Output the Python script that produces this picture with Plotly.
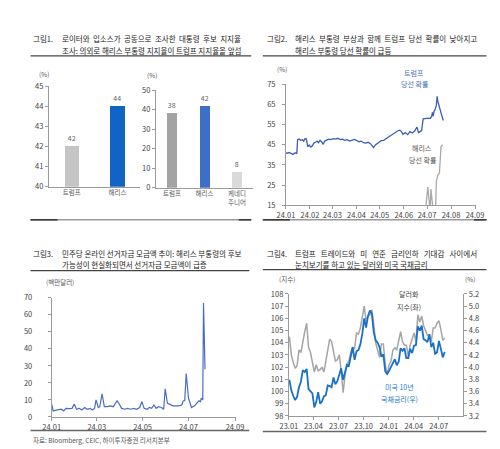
import pandas as pd
import plotly.graph_objects as go

FONT = "Noto Sans CJK KR"
W, H = 500, 449

# ---- 그림1: 지지율 (%) ----
poll1_cats = ["트럼프", "해리스"]
poll1_vals = [42, 44]
poll2_cats = ["트럼프", "해리스", "케네디<br>주니어"]
poll2_vals = [38, 42, 8]

# ---- 그림2: 당선 확률 (%) ----
trump_dates = [
    "2024-01-01", "2024-01-03", "2024-01-05", "2024-01-08", "2024-01-10", "2024-01-12",
    "2024-01-14", "2024-01-15", "2024-01-16", "2024-01-18", "2024-01-20", "2024-01-22",
    "2024-01-24", "2024-01-25", "2024-01-27", "2024-01-28", "2024-01-29", "2024-01-31",
    "2024-02-02", "2024-02-04", "2024-02-06", "2024-02-08", "2024-02-10", "2024-02-12",
    "2024-02-14", "2024-02-16", "2024-02-18", "2024-02-20", "2024-02-22", "2024-02-25",
    "2024-02-28", "2024-03-02", "2024-03-05", "2024-03-08", "2024-03-11", "2024-03-14",
    "2024-03-17", "2024-03-20", "2024-03-23", "2024-03-26", "2024-03-29", "2024-04-01",
    "2024-04-04", "2024-04-07", "2024-04-10", "2024-04-13", "2024-04-16", "2024-04-19",
    "2024-04-21", "2024-04-23", "2024-04-25", "2024-04-27", "2024-04-30", "2024-05-03",
    "2024-05-06", "2024-05-09", "2024-05-12", "2024-05-15", "2024-05-18", "2024-05-21",
    "2024-05-24", "2024-05-27", "2024-05-29", "2024-05-31", "2024-06-03", "2024-06-06",
    "2024-06-09", "2024-06-12", "2024-06-15", "2024-06-18", "2024-06-20", "2024-06-22",
    "2024-06-24", "2024-06-26", "2024-06-28", "2024-07-01", "2024-07-03", "2024-07-05",
    "2024-07-07", "2024-07-08", "2024-07-09", "2024-07-10", "2024-07-11", "2024-07-13",
    "2024-07-14", "2024-07-15", "2024-07-16", "2024-07-18", "2024-07-20", "2024-07-22",
]
trump_prob = [
    41.0, 40.8, 41.2, 40.5, 40.2, 40.8,
    41.0, 40.5, 47.5, 47.8, 47.2, 47.5,
    46.8, 47.8, 48.0, 46.5, 44.0, 44.8,
    43.8, 44.5, 45.8, 46.2, 46.8, 46.0,
    47.2, 46.5, 45.2, 46.8, 47.2, 47.8,
    47.5, 48.0, 47.8, 48.2, 47.5, 47.8,
    47.2, 47.5, 46.8, 47.4, 47.6, 47.2,
    46.5, 46.8, 46.0, 45.8, 46.2, 45.5,
    44.8, 43.6, 44.8, 45.5, 46.2, 47.0,
    47.2, 48.0, 48.8, 49.5, 50.5, 51.0,
    51.8, 52.2, 51.5, 50.2, 51.0, 50.0,
    51.5, 50.8, 51.8, 53.8, 51.0, 51.5,
    52.0, 57.8, 58.0, 58.0, 58.2, 58.0,
    59.0, 61.0, 59.2, 61.5, 62.0, 64.5,
    69.0, 66.5, 64.8, 62.0, 59.5, 57.0,
]
harris_dates = [
    "2024-06-27", "2024-06-30", "2024-07-02", "2024-07-04", "2024-07-05", "2024-07-06",
    "2024-07-08", "2024-07-09", "2024-07-12", "2024-07-13", "2024-07-15", "2024-07-17",
    "2024-07-19", "2024-07-21",
]
harris_prob = [8, 16, 24, 15, 12, 23, 15, 12, 12, 27, 30, 31, 44, 45]

# ---- 그림3: 민주당 온라인 선거자금 모금액 (백만달러) ----
fund_dates = [
    "2024-01-01", "2024-01-03", "2024-01-07", "2024-01-12", "2024-01-14", "2024-01-17",
    "2024-01-20", "2024-01-24", "2024-01-28", "2024-01-31", "2024-02-03", "2024-02-07",
    "2024-02-10", "2024-02-14", "2024-02-17", "2024-02-21", "2024-02-24", "2024-02-27",
    "2024-02-29", "2024-03-03", "2024-03-05", "2024-03-08", "2024-03-11", "2024-03-15",
    "2024-03-19", "2024-03-23", "2024-03-28", "2024-03-31", "2024-04-03", "2024-04-07",
    "2024-04-11", "2024-04-15", "2024-04-19", "2024-04-23", "2024-04-27", "2024-04-30",
    "2024-05-03", "2024-05-07", "2024-05-10", "2024-05-13", "2024-05-16", "2024-05-19",
    "2024-05-22", "2024-05-26", "2024-05-29", "2024-05-31", "2024-06-03", "2024-06-06",
    "2024-06-10", "2024-06-14", "2024-06-18", "2024-06-22", "2024-06-24", "2024-06-26",
    "2024-06-28", "2024-07-01", "2024-07-05", "2024-07-09", "2024-07-13", "2024-07-15",
    "2024-07-17", "2024-07-18", "2024-07-20", "2024-07-21", "2024-07-23",
]
fund_vals = [
    7.5, 3.5, 4.0, 4.2, 4.5, 3.5,
    5.0, 4.8, 5.0, 7.5, 4.5, 5.0,
    4.0, 5.5, 4.5, 5.0, 4.0, 5.0,
    10.0, 5.5, 6.0, 13.5, 6.0, 6.0,
    6.5, 6.0, 9.5, 7.5, 5.0, 4.5,
    5.0, 4.5, 5.0, 4.5, 5.5, 9.0,
    5.0, 4.5, 5.5, 5.0, 7.0, 5.0,
    6.0, 5.5, 4.5, 16.5, 8.0, 7.5,
    6.5, 6.5, 6.5, 7.0, 9.5, 9.5,
    25.5, 11.0, 5.5, 6.5, 8.5, 9.5,
    9.0, 11.0, 10.0, 67.0, 28.0,
]

# ---- 그림4: 달러화 지수(좌) / 미국 10년 국채금리(우), 주간 ----
week_dates = pd.date_range("2023-01-03", "2024-07-23", freq="7D")
dxy = [
    104.5, 103.0, 102.4, 101.9, 102.1, 103.4, 103.2, 104.2, 104.9, 105.6,
    103.6, 103.2, 102.4, 101.6, 102.2, 101.7, 101.8, 102.0, 101.6, 102.6,
    103.5, 104.3, 104.1, 103.3, 102.5, 102.6, 103.0, 101.7, 99.9, 101.3,
    102.2, 102.5, 103.2, 103.6, 103.5, 104.8, 104.7, 105.2, 106.2, 107.0,
    105.8, 106.2, 106.3, 106.7, 105.5, 104.0, 103.4, 102.8, 103.9, 103.9,
    102.2, 101.4, 102.2, 102.5, 103.4, 103.6, 103.4, 104.2, 104.9, 104.1,
    103.8, 103.8, 102.9, 103.8, 104.3, 104.8, 104.1, 106.3, 105.7, 106.2,
    105.4, 105.0, 104.6, 104.6, 104.1, 105.2, 105.2, 105.6, 105.8, 105.1,
    104.2, 104.4,
]
ust10y = [
    3.79, 3.62, 3.53, 3.46, 3.51, 3.67, 3.76, 3.95, 3.92, 3.97,
    3.64, 3.60, 3.57, 3.34, 3.43, 3.59, 3.40, 3.44, 3.52, 3.54,
    3.70, 3.69, 3.67, 3.83, 3.72, 3.77, 3.86, 3.98, 3.79, 3.90,
    4.04, 4.02, 4.21, 4.33, 4.12, 4.26, 4.28, 4.37, 4.54, 4.80,
    4.65, 4.84, 4.93, 4.88, 4.57, 4.44, 4.40, 4.33, 4.17, 4.21,
    3.93, 3.89, 3.94, 4.02, 4.07, 4.13, 4.03, 4.09, 4.31, 4.27,
    4.31, 4.15, 4.15, 4.30, 4.23, 4.35, 4.36, 4.67, 4.60, 4.68,
    4.46, 4.44, 4.41, 4.54, 4.33, 4.40, 4.22, 4.24, 4.43, 4.30,
    4.16, 4.25,
]


def px(x):
    return x / W


def py(y):
    return 1 - y / H


fig = go.Figure()

fig.add_trace(go.Bar(
    x=poll1_cats, y=poll1_vals, width=0.32,
    marker=dict(color=["#c4c4c4", "#0f64c4"], line_width=0),
    text=poll1_vals, textposition="outside", cliponaxis=False,
    textfont=dict(size=7, color="#666", family=FONT),
    xaxis="x", yaxis="y",
))
fig.add_trace(go.Bar(
    x=poll2_cats, y=poll2_vals, width=0.3,
    marker=dict(color=["#a3a3a3", "#3d6fc6", "#dadada"], line_width=0),
    text=poll2_vals, textposition="outside", cliponaxis=False,
    textfont=dict(size=7, color="#666", family=FONT),
    xaxis="x2", yaxis="y2",
))
fig.add_trace(go.Scatter(
    x=trump_dates, y=trump_prob, mode="lines",
    line=dict(color="#3b5fb4", width=1.3), xaxis="x3", yaxis="y3",
))
fig.add_trace(go.Scatter(
    x=harris_dates, y=harris_prob, mode="lines",
    line=dict(color="#a8a8a8", width=1.3), xaxis="x3", yaxis="y3",
))
fig.add_trace(go.Scatter(
    x=fund_dates, y=fund_vals, mode="lines",
    line=dict(color="#4a6cc0", width=1.2), xaxis="x4", yaxis="y4",
))
fig.add_trace(go.Scatter(
    x=week_dates, y=dxy, mode="lines",
    line=dict(color="#a5a5a5", width=1.5), xaxis="x5", yaxis="y5",
))
fig.add_trace(go.Scatter(
    x=week_dates, y=ust10y, mode="lines",
    line=dict(color="#1a6fc9", width=1.8), xaxis="x5", yaxis="y6",
))

# 축 공통 스타일
ax = dict(showline=True, linecolor="#9a9a9a", linewidth=1, ticks="outside",
          ticklen=3, tickcolor="#9a9a9a", showgrid=False, zeroline=False,
          tickfont=dict(size=7.5, color="#444", family=FONT))

fig.update_layout(
    width=W, height=H, autosize=False, showlegend=False,
    margin=dict(l=0, r=0, t=0, b=0),
    paper_bgcolor="white", plot_bgcolor="white",
    font=dict(family=FONT, color="#333"),
    bargap=0,
    # 그림1 왼쪽
    xaxis=dict(ax, domain=[px(33), px(128)], anchor="y", type="category",
               range=[-0.5, 1.5], ticks="", tickfont=dict(size=6.5, color="#555", family=FONT)),
    yaxis=dict(ax, domain=[py(177), py(74)], anchor="x", range=[40, 45], dtick=1),
    # 그림1 오른쪽
    xaxis2=dict(ax, domain=[px(144), px(245)], anchor="y2", type="category",
                range=[-0.5, 2.5], ticks="", tickfont=dict(size=6.5, color="#555", family=FONT)),
    yaxis2=dict(ax, domain=[py(178), py(78)], anchor="x2", range=[0, 50], dtick=10),
    # 그림2
    xaxis3=dict(ax, domain=[px(279), px(476)], anchor="y3", type="date",
                range=["2024-01-01", "2024-09-02"], dtick="M1", tick0="2024-01-01",
                tickformat="%y.%m"),
    yaxis3=dict(ax, domain=[py(196), py(72)], anchor="x3", range=[15, 75],
                dtick=10, tick0=15, ticklabelstandoff=5),
    # 그림3
    xaxis4=dict(ax, domain=[px(36), px(227)], anchor="y4", type="date",
                range=["2024-01-01", "2024-09-02"], dtick="M2", tick0="2024-01-01",
                tickformat="%y.%m"),
    yaxis4=dict(ax, domain=[py(413), py(291)], anchor="x4", range=[0, 70],
                dtick=10, ticklabelstandoff=14),
    # 그림4
    xaxis5=dict(ax, domain=[px(282), px(463)], anchor="y5", type="date",
                range=["2023-01-01", "2024-09-29"], dtick="M3", tick0="2023-01-01",
                tickformat="%y.%m"),
    yaxis5=dict(ax, domain=[py(412), py(287)], anchor="x5", range=[98, 108], dtick=1),
    yaxis6=dict(ax, domain=[py(412), py(287)], anchor="x5", overlaying="y5",
                side="right", range=[3.2, 5.2], dtick=0.2, tickformat=".1f"),
)

NB = "\u00a0"
title_font = dict(size=7.5, color="#222", family=FONT)
notes = [
    # 제목
    (15, 25, "그림1.", "left", title_font),
    (45, 25, f"로이터와{NB} 입소스가{NB} 공동으로{NB} 조사한{NB} 대통령{NB} 후보{NB} 지지율", "left", title_font),
    (45, 37, "조사: 의외로 해리스 부통령 지지율이 트럼프 지지율을 앞섬", "left", title_font),
    (257, 25, "그림2.", "left", title_font),
    (286, 25, f"해리스{NB} 부통령{NB} 부상과{NB} 함께{NB} 트럼프{NB} 당선{NB} 확률이{NB} 낮아지고", "left", title_font),
    (286, 37, "해리스 부통령 당선 확률이 급등", "left", title_font),
    (15, 246, "그림3.", "left", title_font),
    (45, 246, "민주당 온라인 선거자금 모금액 추이: 해리스 부통령의 후보", "left", title_font),
    (45, 257, "가능성이 현실화되면서 선거자금 모금액이 급증", "left", title_font),
    (257, 246, "그림4.", "left", title_font),
    (286, 246, f"트럼프{NB}{NB} 트레이드와{NB}{NB} 미{NB}{NB} 연준{NB}{NB} 금리인하{NB}{NB} 기대감{NB}{NB} 사이에서", "left", title_font),
    (286, 257, "눈치보기를 하고 있는 달러와 미국 국채금리", "left", title_font),
    # 단위
    (28, 61, "(%)", "center", dict(size=6.5, color="#555", family=FONT)),
    (140, 63, "(%)", "center", dict(size=6.5, color="#555", family=FONT)),
    (275, 56, "(%)", "center", dict(size=6.5, color="#555", family=FONT)),
    (45, 275, "(백만달러)", "center", dict(size=6.5, color="#555", family=FONT)),
    (280, 272, "(지수)", "center", dict(size=6.5, color="#555", family=FONT)),
    (470, 272, "(%)", "center", dict(size=6.5, color="#555", family=FONT)),
    # 계열 라벨
    (412, 60, "트럼프", "center", dict(size=7, color="#4a6fc0", family=FONT)),
    (413, 72, "당선 확률", "center", dict(size=7, color="#4a6fc0", family=FONT)),
    (420, 137, "해리스", "center", dict(size=7, color="#555", family=FONT)),
    (421, 150, "당선 확률", "center", dict(size=7, color="#555", family=FONT)),
    (407, 287, "달러화", "center", dict(size=7, color="#444", family=FONT)),
    (407, 300, "지수(좌)", "center", dict(size=7, color="#444", family=FONT)),
    (397, 382, "미국 10년", "center", dict(size=7, color="#1a7ad0", family=FONT)),
    (397, 395, "국채금리(우)", "center", dict(size=7, color="#1a7ad0", family=FONT)),
    # 출처
    (15, 437, "자료: Bloomberg, CEIC, 하이투자증권 리서치본부", "left", dict(size=6.5, color="#555", family=FONT)),
]
for x, y, t, anc, f in notes:
    fig.add_annotation(x=px(x), y=py(y), xref="paper", yref="paper", text=t,
                       showarrow=False, xanchor=anc, yanchor="middle", font=f)

# 구분선
rules = [
    (14, 243, 43, "#444", 1.2), (255, 487, 43, "#444", 1.2),
    (14, 241, 263, "#444", 1.2), (255, 487, 262, "#444", 1.2),
    (14, 243, 211, "#999", 1.5), (255, 487, 211, "#999", 1.5),
    (14, 42, 211, "#333", 1.5), (230, 243, 211, "#333", 1.5),
    (255, 283, 211, "#333", 1.5), (474, 487, 211, "#333", 1.5),
    (14, 241, 427, "#666", 1.5), (255, 487, 428, "#666", 1.5),
]
for x0, x1, y, c, w in rules:
    fig.add_shape(type="line", xref="paper", yref="paper",
                  x0=px(x0), x1=px(x1), y0=py(y), y1=py(y),
                  line=dict(color=c, width=w))

fig.write_html("out.html")
